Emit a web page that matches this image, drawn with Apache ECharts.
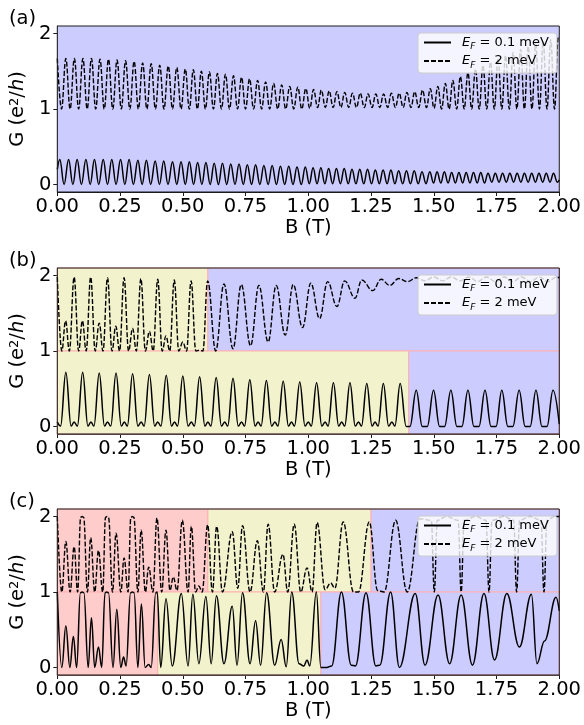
<!DOCTYPE html>
<html><head><meta charset="utf-8">
<script src="https://cdn.jsdelivr.net/npm/echarts@6/dist/echarts.min.js"></script>
<style>html,body{margin:0;padding:0;background:#fff}#c{width:584px;height:725px}</style>
</head><body><div id="c"></div>
<script>
// ---------- data (B in T, G in e^2/h) ----------
const bTicks = [0, 0.25, 0.5, 0.75, 1.0, 1.25, 1.5, 1.75, 2.0];
const gTicks = [0, 1, 2];
const panelLabels = ['(a)', '(b)', '(c)'];
const legendNames = ['E_F = 0.1 meV', 'E_F = 2 meV'];

// panel (a), E_F = 0.1 meV : extrema [B, G, B, G, ...]
const aSolid = [0,0.20, 0.010,0.33, 0.027,0, 0.045,0.33, 0.062,0, 0.079,0.33, 0.096,0, 0.114,0.33, 0.131,0, 0.148,0.33, 0.165,0, 0.183,0.33, 0.200,0, 0.217,0.33, 0.234,0, 0.252,0.33, 0.269,0, 0.286,0.33, 0.303,0, 0.321,0.32, 0.338,0, 0.355,0.32, 0.372,0, 0.390,0.31, 0.407,0, 0.424,0.31, 0.441,0, 0.459,0.30, 0.476,0, 0.493,0.30, 0.510,0,
0.526,0.30, 0.543,0, 0.559,0.29, 0.576,0, 0.592,0.29, 0.609,0, 0.625,0.28, 0.642,0, 0.658,0.28, 0.675,0, 0.691,0.27, 0.708,0, 0.724,0.27, 0.741,0, 0.757,0.26, 0.774,0, 0.790,0.26, 0.807,0, 0.823,0.25, 0.840,0, 0.856,0.25, 0.873,0, 0.889,0.24, 0.906,0, 0.922,0.24, 0.939,0, 0.955,0.23, 0.972,0, 0.988,0.23, 1.004,0.01,
1.019,0.22, 1.035,0.01, 1.050,0.22, 1.066,0.01, 1.081,0.21, 1.097,0.01, 1.112,0.21, 1.128,0.01, 1.143,0.21, 1.159,0.01, 1.174,0.20, 1.190,0.01, 1.205,0.20, 1.221,0.01, 1.236,0.20, 1.252,0.01, 1.267,0.19, 1.283,0.01, 1.298,0.19, 1.314,0.01, 1.329,0.19, 1.345,0.01, 1.360,0.18, 1.376,0.01, 1.391,0.18, 1.407,0.01, 1.422,0.18, 1.438,0.01, 1.453,0.17, 1.469,0.01, 1.484,0.17, 1.499,0.02,
1.513,0.17, 1.528,0.02, 1.542,0.17, 1.557,0.02, 1.571,0.16, 1.586,0.02, 1.600,0.16, 1.615,0.02, 1.629,0.16, 1.644,0.02, 1.658,0.16, 1.673,0.02, 1.687,0.16, 1.702,0.02, 1.716,0.15, 1.731,0.03, 1.745,0.15, 1.760,0.03, 1.774,0.15, 1.789,0.03, 1.803,0.15, 1.818,0.03, 1.832,0.15, 1.847,0.03, 1.861,0.15, 1.876,0.03, 1.890,0.15, 1.905,0.03, 1.919,0.15, 1.934,0.03, 1.948,0.15, 1.963,0.03, 1.977,0.15, 1.992,0.03, 2.0,0.06];

// panel (a), E_F = 2 meV
const aDashed = [0,1.67, 0.017,1.0, 0.034,1.67, 0.051,1.0, 0.068,1.67, 0.085,1.0, 0.102,1.67, 0.119,1.0, 0.136,1.67, 0.153,1.0, 0.170,1.66, 0.187,1.0, 0.204,1.66, 0.221,1.0, 0.238,1.65, 0.255,1.0, 0.272,1.64, 0.289,1.0, 0.306,1.63, 0.323,1.0, 0.340,1.61, 0.357,1.0, 0.374,1.60, 0.391,1.0, 0.408,1.58, 0.425,1.0, 0.442,1.57, 0.459,1.0, 0.476,1.55, 0.493,1.0, 0.510,1.53, 0.526,1.0,
0.542,1.52, 0.558,1.0, 0.574,1.50, 0.590,1.0, 0.606,1.49, 0.622,1.0, 0.638,1.47, 0.654,1.0, 0.670,1.46, 0.686,1.0, 0.702,1.44, 0.718,1.0, 0.734,1.42, 0.750,1.0, 0.766,1.40, 0.782,1.0, 0.798,1.38, 0.814,1.0, 0.830,1.36, 0.846,1.0, 0.862,1.34, 0.878,1.0, 0.894,1.32, 0.910,1.0, 0.926,1.30, 0.942,1.0, 0.958,1.29, 0.974,1.0, 0.990,1.27, 1.006,1.01,
1.021,1.26, 1.037,1.02, 1.052,1.25, 1.068,1.02, 1.083,1.24, 1.099,1.02, 1.114,1.23, 1.130,1.02, 1.145,1.22, 1.161,1.02, 1.176,1.21, 1.192,1.02, 1.207,1.21, 1.223,1.02, 1.238,1.20, 1.254,1.02, 1.269,1.20, 1.285,1.02, 1.300,1.20, 1.316,1.02, 1.331,1.21, 1.347,1.02, 1.362,1.21, 1.378,1.02, 1.393,1.22, 1.409,1.02, 1.424,1.23, 1.440,1.02, 1.455,1.25, 1.471,1.02, 1.486,1.27, 1.501,1.01,
1.516,1.30, 1.531,1.0, 1.546,1.34, 1.561,1.0, 1.576,1.38, 1.591,1.0, 1.606,1.43, 1.621,1.0, 1.636,1.48, 1.651,1.0, 1.666,1.53, 1.681,1.0, 1.696,1.58, 1.711,1.0, 1.726,1.62, 1.741,1.0, 1.756,1.67, 1.771,1.0, 1.786,1.71, 1.801,1.0, 1.816,1.75, 1.831,1.0, 1.846,1.79, 1.861,1.0, 1.876,1.83, 1.891,1.0, 1.906,1.86, 1.921,1.0, 1.936,1.89, 1.951,1.0, 1.966,1.92, 1.981,1.0, 1.996,1.95, 2.0,1.93];

// panel (b), E_F = 0.1 meV
const bSolid = [0,0.06, 0.013,0.005, 0.034,0.72, 0.055,0.005, 0.067,0.06, 0.080,0.005, 0.101,0.72, 0.122,0.005, 0.134,0.06, 0.146,0.005, 0.167,0.71, 0.188,0.005, 0.200,0.06, 0.213,0.005, 0.234,0.71, 0.255,0.005, 0.267,0.06, 0.279,0.005, 0.300,0.70, 0.321,0.005, 0.334,0.06, 0.346,0.005, 0.367,0.69, 0.388,0.005, 0.400,0.06, 0.413,0.005, 0.434,0.68, 0.455,0.005, 0.467,0.06, 0.479,0.005, 0.500,0.67, 0.521,0.005, 0.534,0.06, 0.546,0.005, 0.567,0.66, 0.588,0.005, 0.600,0.06, 0.612,0.005, 0.633,0.65, 0.654,0.005, 0.667,0.06, 0.679,0.005, 0.700,0.64, 0.721,0.005, 0.734,0.06, 0.746,0.005, 0.767,0.62, 0.788,0.005, 0.800,0.06, 0.812,0.005, 0.833,0.61, 0.854,0.005, 0.867,0.06, 0.879,0.005, 0.900,0.60, 0.921,0.005, 0.933,0.06, 0.945,0.005, 0.966,0.59, 0.987,0.005, 1.000,0.06, 1.012,0.005, 1.033,0.58, 1.054,0.005, 1.067,0.06, 1.079,0.005, 1.100,0.58, 1.121,0.005, 1.133,0.06, 1.145,0.005, 1.166,0.58, 1.187,0.005, 1.200,0.06, 1.212,0.005, 1.233,0.57, 1.254,0.005, 1.266,0.06, 1.278,0.005, 1.299,0.57, 1.320,0.005, 1.333,0.06, 1.345,0.005, 1.366,0.57, 1.390,0.0, 1.405,0.0,
1.430,0.48, 1.454,0.0, 1.474,0.0, 1.499,0.48, 1.523,0.0, 1.543,0.0, 1.568,0.48, 1.592,0.0, 1.612,0.0, 1.636,0.48, 1.660,0.0, 1.680,0.0, 1.704,0.48, 1.728,0.0, 1.748,0.0, 1.771,0.48, 1.795,0.0, 1.815,0.0, 1.840,0.48, 1.864,0.0, 1.884,0.0, 1.907,0.48, 1.931,0.0, 1.951,0.0, 1.975,0.48, 2.0,0.03];

// panel (b), E_F = 2 meV
const bDashed = [0,1.98, 0.018,1.0, 0.033,1.40, 0.048,1.0, 0.067,1.98, 0.085,1.0, 0.100,1.40, 0.115,1.0, 0.133,1.98, 0.151,1.0, 0.167,1.37, 0.182,1.0, 0.200,1.97, 0.218,1.0, 0.233,1.33, 0.248,1.0, 0.266,1.97, 0.284,1.0, 0.300,1.30, 0.315,1.0, 0.333,1.96, 0.351,1.0, 0.367,1.26, 0.382,1.0, 0.400,1.95, 0.418,1.0, 0.433,1.20, 0.448,1.0, 0.466,1.94, 0.484,1.0, 0.500,1.12, 0.515,1.0, 0.533,1.93, 0.552,1.0, 0.566,1.01, 0.580,1.0, 0.599,1.93,
0.631,1.0, 0.664,1.89, 0.700,1.03, 0.733,1.88, 0.770,1.07, 0.803,1.87, 0.840,1.12, 0.872,1.87, 0.908,1.21, 0.940,1.88, 0.977,1.31, 1.010,1.90, 1.045,1.43, 1.077,1.92, 1.114,1.59, 1.145,1.93, 1.186,1.70, 1.213,1.94, 1.257,1.80, 1.290,1.95, 1.325,1.87, 1.360,1.96, 1.395,1.92, 1.430,1.97, 1.465,1.93, 1.500,1.98, 1.535,1.93, 1.570,1.98, 1.605,1.93, 1.640,1.98, 1.675,1.92, 1.710,1.98, 1.745,1.92, 1.780,1.98, 1.815,1.92, 1.850,1.98, 1.885,1.92, 1.920,1.98, 1.955,1.92, 1.990,1.98, 2.0,1.97];

// panel (c), E_F = 0.1 meV
const cSolid = [0,1.0, 0.018,0.0, 0.034,0.55, 0.050,0.0, 0.064,0.41, 0.077,0.0, 0.092,0.99, 0.099,1.0, 0.106,0.99, 0.123,0.0, 0.136,0.66, 0.149,0.0, 0.164,0.27, 0.177,0.0, 0.190,0.99, 0.197,1.0, 0.204,0.99, 0.222,0.0, 0.237,0.77, 0.253,0.0, 0.264,0.14, 0.274,0.02, 0.292,0.99, 0.299,1.0, 0.306,0.99, 0.321,0.0, 0.335,0.84, 0.350,0.0, 0.364,0.04, 0.374,0.0, 0.392,0.99, 0.398,1.0,
0.412,0.0, 0.433,0.91, 0.458,0.02, 0.494,0.98, 0.521,0.02, 0.540,0.97, 0.564,0.05, 0.592,0.94, 0.613,0.05, 0.634,0.95, 0.664,0.05, 0.697,0.81, 0.716,0.03, 0.738,0.99, 0.768,0.05, 0.790,0.62, 0.810,0.03, 0.834,0.99, 0.866,0.03, 0.892,0.37, 0.912,0.01, 0.934,1.0, 0.963,0.05, 0.982,0.02, 0.995,0.10, 1.006,0.02, 1.032,1.0, 1.050,0.0,
1.074,0.0, 1.093,0.02, 1.132,1.0, 1.171,0.03, 1.188,0.02, 1.230,0.99, 1.269,0.02, 1.285,0.03, 1.328,1.0, 1.363,0.0, 1.426,0.98, 1.465,0.03, 1.517,0.96, 1.563,0.05, 1.609,0.96, 1.654,0.03, 1.700,0.98, 1.742,0.10, 1.791,0.98, 1.841,0.27, 1.889,0.97, 1.911,0.05, 1.941,0.35, 1.987,0.93, 2.0,0.75];

// panel (c), E_F = 2 meV
const cDashed = [0,2.0, 0.018,1.0, 0.034,1.67, 0.051,1.0, 0.067,1.60, 0.081,1.0, 0.093,1.99, 0.099,2.0, 0.105,1.99, 0.120,1.0, 0.133,1.72, 0.149,1.0, 0.164,1.55, 0.181,1.0, 0.192,1.99, 0.198,2.0, 0.204,1.99, 0.220,1.0, 0.234,1.78, 0.253,1.0, 0.266,1.45, 0.282,1.0, 0.293,1.99, 0.299,2.0, 0.305,1.99, 0.321,1.0, 0.334,1.82, 0.351,1.0, 0.364,1.33, 0.381,1.0, 0.397,1.98, 0.416,1.0, 0.433,1.82, 0.449,1.02, 0.462,1.20, 0.477,1.02, 0.498,1.95, 0.521,1.0, 0.534,1.87, 0.551,1.0, 0.564,1.08, 0.577,1.0, 0.599,1.89,
0.618,1.0, 0.635,1.87, 0.658,1.0, 0.697,1.80, 0.719,1.05, 0.738,1.88, 0.768,1.0, 0.797,1.68, 0.821,1.0, 0.840,1.90, 0.866,1.0, 0.899,1.50, 0.918,1.0, 0.944,1.90, 0.970,1.0, 0.995,1.32, 1.015,1.0, 1.035,1.92, 1.067,1.03, 1.089,1.12, 1.106,1.05, 1.139,1.93, 1.180,1.0, 1.200,1.0, 1.243,1.93,
1.276,1.02, 1.302,1.0, 1.348,1.95, 1.394,1.0, 1.445,1.97, 1.490,1.95, 1.502,1.0, 1.514,1.95, 1.550,2.0, 1.597,1.95, 1.609,1.0, 1.621,1.95, 1.667,2.0, 1.708,1.95, 1.720,1.0, 1.732,1.95, 1.778,2.0, 1.818,1.95, 1.830,1.0, 1.842,1.95, 1.883,2.0, 1.927,1.95, 1.939,1.0, 1.951,1.95, 1.980,2.0, 2.0,2.0];

// background regions: [B from, B to, G from, G to, colour key]
const regionsA = [[0,2,-0.1,2.1,'blue']];
const regionsB = [[0,0.6,1,2.1,'yellow'],[0.6,2,1,2.1,'blue'],[0,1.4,-0.1,1,'yellow'],[1.4,2,-0.1,1,'blue']];
const regionsC = [[0,0.6,1,2.1,'red'],[0.6,1.25,1,2.1,'yellow'],[1.25,2,1,2.1,'blue'],[0,0.4,-0.1,1,'red'],[0.4,1.05,-0.1,1,'yellow'],[1.05,2,-0.1,1,'blue']];

// ---------- styling / layout ----------
const COLORS = {blue:'#ccccff', yellow:'#f2f2cc', red:'#ffcccc'};
const FONT = 'DejaVu Sans';
const tops = [26, 268, 509];
const PLOT_H = 166;

function pairs(a){const r=[];for(let i=0;i<a.length;i+=2)r.push([a[i],a[i+1]]);return r;}

const panels = [
  {solid:aSolid, dashed:aDashed, regions:regionsA, edge:0},
  {solid:bSolid, dashed:bDashed, regions:regionsB, edge:1},
  {solid:cSolid, dashed:cDashed, regions:regionsC, edge:1}
];

const grid=[], xAxis=[], yAxis=[], series=[], legend=[], title=[];
panels.forEach((p,i)=>{
  grid.push({left:49, width:511, top:tops[i], height:PLOT_H, show:true, z:10,
    backgroundColor:'transparent', borderColor:'#1a1a1a', borderWidth:1});
  xAxis.push({gridIndex:i, type:'value', min:bTicks[0], max:bTicks[bTicks.length-1], interval:0.25,
    axisLine:{show:true, onZero:false, lineStyle:{color:'#1a1a1a', width:1}},
    axisTick:{show:true, length:4, lineStyle:{color:'#1a1a1a'}},
    axisLabel:{formatter:v=>v.toFixed(2), fontSize:19.5, fontFamily:FONT, color:'#000', margin:5},
    splitLine:{show:false},
    name:'B (T)', nameLocation:'middle', nameGap:19,
    nameTextStyle:{fontSize:19.5, fontFamily:FONT, color:'#000'}});
  yAxis.push({gridIndex:i, type:'value', min:-0.1, max:2.1,
    axisLine:{show:true, onZero:false, lineStyle:{color:'#1a1a1a', width:1}},
    axisTick:{show:true, length:4, customValues:gTicks, lineStyle:{color:'#1a1a1a'}},
    axisLabel:{customValues:gTicks, fontSize:19.5, fontFamily:FONT, color:'#000', margin:6},
    splitLine:{show:false},
    name:'G (e{s|2}/{i|h})', nameLocation:'middle', nameGap:23,
    nameTextStyle:{fontSize:19.5, fontFamily:FONT, color:'#000',
      rich:{s:{fontSize:13, fontFamily:FONT, verticalAlign:'top', lineHeight:12, color:'#000'},
            i:{fontSize:19.5, fontFamily:FONT, fontStyle:'italic', color:'#000'}}}});
  series.push({type:'line', xAxisIndex:i, yAxisIndex:i, data:[], silent:true, z:1,
    markArea:{silent:true, data:p.regions.map(r=>[
      {xAxis:r[0], yAxis:r[2], itemStyle:{color:COLORS[r[4]], borderColor:'#ffb0b0', borderWidth:p.edge}},
      {xAxis:r[1], yAxis:r[3]}])}});
  series.push({name:'EF01', type:'line', xAxisIndex:i, yAxisIndex:i, data:pairs(p.solid),
    symbol:'none', smooth:0.4, smoothMonotone:'x', z:3, silent:true,
    lineStyle:{color:'#000', width:1.5}, itemStyle:{color:'#000'}});
  series.push({name:'EF2', type:'line', xAxisIndex:i, yAxisIndex:i, data:pairs(p.dashed),
    symbol:'none', smooth:0.4, smoothMonotone:'x', z:3, silent:true,
    lineStyle:{color:'#000', width:1.4, type:[5,2]}, itemStyle:{color:'#000'}});
  legend.push({left:418, top:tops[i]+7, orient:'vertical', data:['EF01','EF2'],
    itemWidth:27, itemHeight:14, itemGap:3, padding:[3,8,3,5], selectedMode:false,
    itemStyle:{opacity:0, borderWidth:0},
    backgroundColor:'rgba(255,255,255,0.8)', borderColor:'#cccccc', borderWidth:1, borderRadius:3,
    formatter:n=>{const t=(n==='EF01'?legendNames[0]:legendNames[1]).split('= ')[1];
      return '{e|E}{f|F}{t| = '+t+'}';},
    textStyle:{fontFamily:FONT, fontSize:13, color:'#000',
      rich:{e:{fontFamily:FONT, fontSize:13, fontStyle:'italic', padding:[0,0,0,6], lineHeight:18, color:'#000'},
            f:{fontFamily:FONT, fontSize:9, fontStyle:'italic', lineHeight:10, verticalAlign:'bottom', color:'#000'},
            t:{fontFamily:FONT, fontSize:13, lineHeight:18, color:'#000'}}}});
  title.push({text:panelLabels[i], left:4, top:tops[i]-22,
    textStyle:{fontFamily:FONT, fontSize:19.5, fontWeight:'normal', color:'#000'}});
});

const chart = echarts.init(document.getElementById('c'), null, {renderer:'canvas'});
chart.setOption({animation:false, backgroundColor:'#fff', title, grid, xAxis, yAxis, legend, series});
</script></body></html>
